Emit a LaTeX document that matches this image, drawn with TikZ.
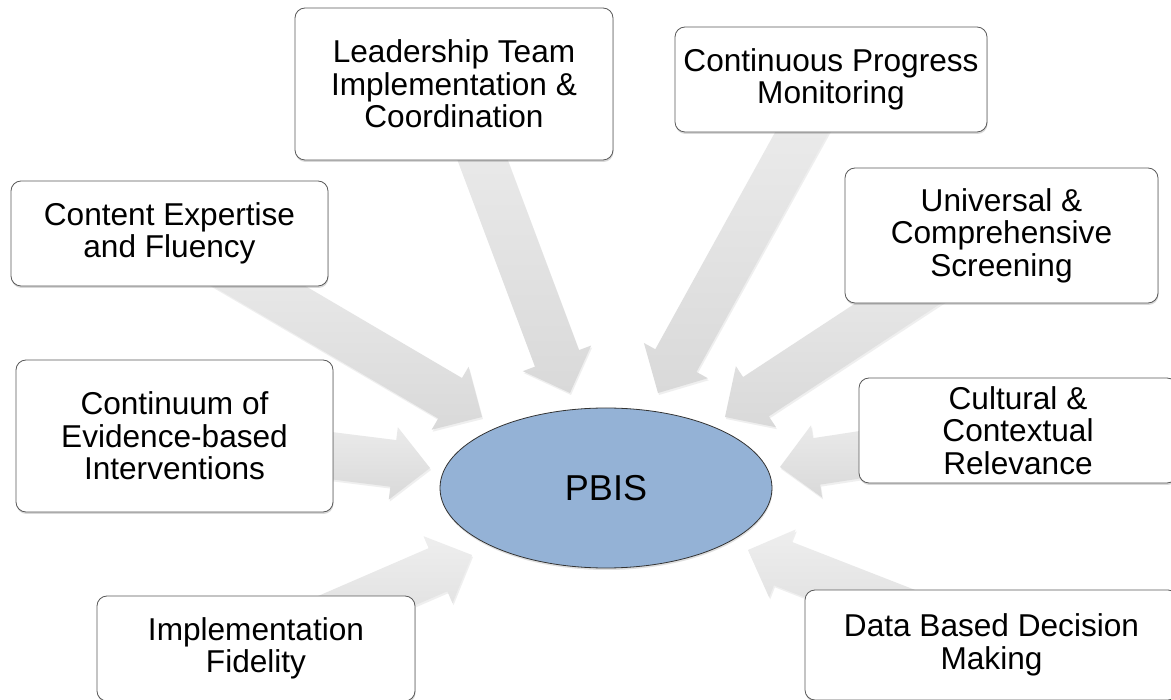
\documentclass[tikz,border=0pt]{standalone}
\usepackage{fontspec}
\setmainfont{Liberation Sans}
\usetikzlibrary{calc,shapes.geometric,shadows}
\pgfdeclarelayer{bg}
\pgfsetlayers{bg,main}
\definecolor{boxline}{HTML}{5A5A5A}
\definecolor{pbisfill}{HTML}{94B2D6}
\definecolor{arrowtop}{HTML}{EEEEEE}
\definecolor{arrowbot}{HTML}{D9D9D9}
\tikzset{
  itembox/.style={draw=boxline, line width=0.8pt, fill=white, rounded corners=10pt,
    align=center, inner sep=0pt, font=\fontsize{31.6}{32.5}\selectfont,
    drop shadow={shadow xshift=0.5pt, shadow yshift=-2pt, opacity=0.3}},
  hub/.style={ellipse, draw=black!80, line width=0.8pt, fill=pbisfill,
    minimum width=332pt, minimum height=160pt, inner sep=0pt,
    font=\fontsize{36}{40}\selectfont,
    drop shadow={shadow xshift=0.5pt, shadow yshift=-2pt, opacity=0.25}},
  blockarrowstyle/.style={top color=arrowtop, bottom color=arrowbot, draw=none,
    drop shadow={shadow xshift=1pt, shadow yshift=-2pt, opacity=0.12}},
}
\newcommand\blockarrow[2]{%
  \coordinate (hb) at ($(#2)!37pt!(#1.center)$);
  \path[blockarrowstyle]
    ($(#1.center)!23.5pt!90:(#2)$) -- ($(hb)!23.5pt!90:(#2)$) --
    ($(hb)!36.5pt!90:(#2)$) -- (#2) -- ($(hb)!36.5pt!-90:(#2)$) --
    ($(hb)!23.5pt!-90:(#2)$) -- ($(#1.center)!23.5pt!-90:(#2)$) -- cycle;
}
\begin{document}
\begin{tikzpicture}[x=1pt,y=-1pt]
\useasboundingbox (0,0) rectangle (1171,700);

% boxes
\node[itembox, minimum width=318pt, minimum height=152pt] (lead) at (454,84)
  {Leadership Team\\Implementation \&\\Coordination};
\node[itembox, minimum width=312pt, minimum height=105pt] (cont) at (831,79.5)
  {Continuous Progress\\Monitoring};
\node[itembox, minimum width=313pt, minimum height=135pt] (univ) at (1001.5,235.5)
  {Universal \&\\Comprehensive\\Screening};
\node[itembox, minimum width=318pt, minimum height=105pt] (cult) at (1018,430.5)
  {Cultural \&\\Contextual\\Relevance};
\node[itembox, minimum width=373pt, minimum height=110pt] (data) at (991.5,645)
  {Data Based Decision\\Making};
\node[itembox, minimum width=317pt, minimum height=105pt] (content) at (169.5,233.5)
  {Content Expertise\\and Fluency};
\node[itembox, minimum width=317pt, minimum height=152pt] (contin) at (174.5,436)
  {Continuum of\\Evidence-based\\Interventions};
\node[itembox, minimum width=318pt, minimum height=105pt] (impl) at (256,648.5)
  {Implementation\\Fidelity};

% hub
\node[hub] (pbis) at (606,488) {PBIS};

% arrow tips
\coordinate (tlead) at (570,393);
\coordinate (tcont) at (658,393);
\coordinate (tuniv) at (725,417);
\coordinate (tcult) at (780,467);
\coordinate (tdata) at (748,550);
\coordinate (tcontent) at (482,417);
\coordinate (tcontin) at (430,468);
\coordinate (timpl) at (472,555);

\begin{pgfonlayer}{bg}
  \fill[white] (0,0) rectangle (1171,700);
  \blockarrow{lead}{tlead}
  \blockarrow{cont}{tcont}
  \blockarrow{univ}{tuniv}
  \blockarrow{cult}{tcult}
  \blockarrow{data}{tdata}
  \blockarrow{content}{tcontent}
  \blockarrow{contin}{tcontin}
  \blockarrow{impl}{timpl}
\end{pgfonlayer}
\end{tikzpicture}
\end{document}
